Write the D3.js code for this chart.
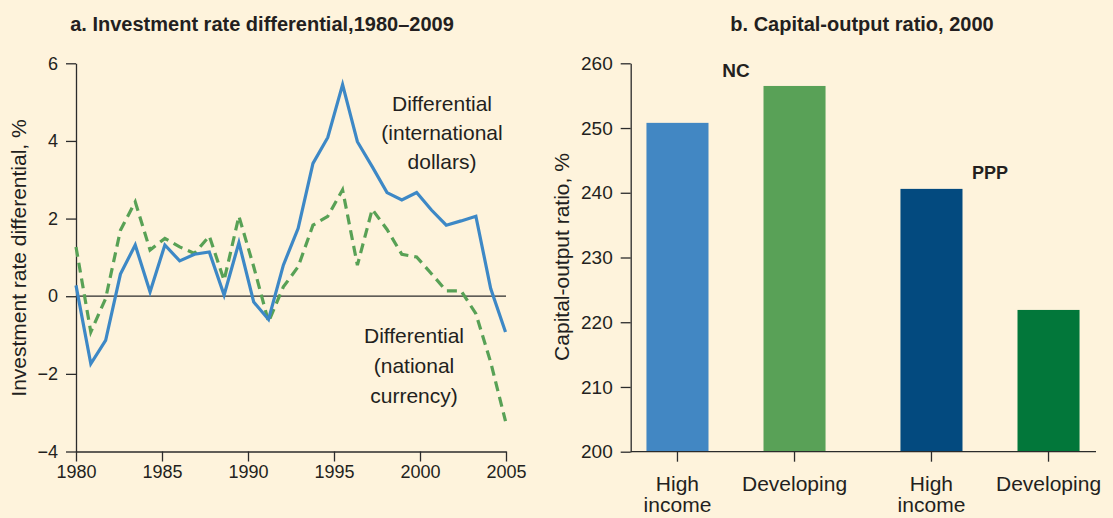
<!DOCTYPE html>
<html>
<head>
<meta charset="utf-8">
<script src="https://cdn.jsdelivr.net/npm/d3@7"></script>
<style>
  html, body { margin: 0; padding: 0; background: #fef3dc; }
  svg { display: block; }
  text { font-family: "Liberation Sans", Arial, Helvetica, sans-serif; fill: #231f20; }
</style>
</head>
<body>
<svg id="chart" width="1113" height="518"></svg>
<script>
// ---------- Data ----------
const years = [1980,1981,1982,1983,1984,1985,1986,1987,1988,1989,1990,1991,1992,1993,1994,
               1995,1996,1997,1998,1999,2000,2001,2002,2003,2004,2005,2006,2007,2008,2009];
const intlDollars = [0.28,-1.74,-1.14,0.57,1.32,0.11,1.32,0.91,1.08,1.14,0.03,1.38,-0.15,-0.60,0.80,
                     1.75,3.42,4.09,5.45,3.98,3.34,2.67,2.48,2.67,2.22,1.83,1.94,2.06,0.20,-0.92];
const natCurrency = [1.27,-0.92,-0.06,1.70,2.43,1.19,1.49,1.27,1.10,1.55,0.41,2.06,0.76,-0.66,0.24,
                     0.76,1.83,2.06,2.74,0.80,2.24,1.72,1.08,1.01,0.58,0.14,0.14,-0.45,-1.70,-3.22];
const leftYTicks = [-4,-2,0,2,4,6];
const leftXTicks = [1980,1985,1990,1995,2000,2005];

const barGroups = ["NC","PPP"];
const barCats = ["High income","Developing"];
const ncValues = [250.8, 256.5];
const pppValues = [240.6, 221.9];
const rightYTicks = [200,210,220,230,240,250,260];

// ---------- Setup ----------
const svg = d3.select("#chart");
svg.append("rect").attr("width",1113).attr("height",518).attr("fill","#fef3dc");
const axisColor = "#2b2b2b";

// ---------- Panel a ----------
const xA = d3.scaleLinear().domain([years[0], years[years.length-1]]).range([76, 505.5]);
const xAxisA = d3.scaleLinear().domain([1980, 2005]).range([76, 506]);
const yA = d3.scaleLinear().domain([-4, 6]).range([451.5, 63.3]);

const gYA = svg.append("g").attr("transform","translate(76,0)")
  .call(d3.axisLeft(yA).tickValues(leftYTicks).tickSize(10).tickSizeOuter(0).tickPadding(8));
const gXA = svg.append("g").attr("transform",`translate(0,${yA(-4)})`)
  .call(d3.axisBottom(xAxisA).tickValues(leftXTicks).tickFormat(d3.format("d")).tickSize(10).tickSizeOuter(0).tickPadding(4));
[gYA, gXA].forEach(g => {
  g.selectAll("path, line").attr("stroke", axisColor).attr("stroke-width", 1.3);
  g.selectAll("text").style("font-size","18px").attr("fill","#231f20").style("font-family","'Liberation Sans', Arial, sans-serif");
});

// zero line
svg.append("line").attr("x1", 76).attr("x2", 506).attr("y1", yA(0)).attr("y2", yA(0))
  .attr("stroke", axisColor).attr("stroke-width", 1.2);

const lineA = (vals) => d3.line().x((d,i)=>xA(years[i])).y(d=>yA(d))(vals);
svg.append("path").attr("d", lineA(natCurrency)).attr("fill","none")
  .attr("stroke","#58a155").attr("stroke-width",3.2).attr("stroke-dasharray","10,6");
svg.append("path").attr("d", lineA(intlDollars)).attr("fill","none")
  .attr("stroke","#3d88c6").attr("stroke-width",3.2).attr("stroke-linejoin","miter");

// title a
svg.append("text").attr("x", 262).attr("y", 31).attr("text-anchor","middle")
  .style("font-size","20px").style("font-weight","bold").text("a. Investment rate differential,1980–2009");

// y title a
svg.append("text").attr("transform","translate(26,258) rotate(-90)").attr("text-anchor","middle")
  .style("font-size","21px").text("Investment rate differential, %");

// annotations
const ann1 = ["Differential","(international","dollars)"];
svg.append("g").selectAll("text").data(ann1).join("text")
  .attr("x", 442).attr("y",(d,i)=>110.5 + i*29).attr("text-anchor","middle")
  .style("font-size","21px").text(d=>d);
const ann2 = ["Differential","(national","currency)"];
svg.append("g").selectAll("text").data(ann2).join("text")
  .attr("x", 414).attr("y",(d,i)=>342.5 + i*30).attr("text-anchor","middle")
  .style("font-size","21px").text(d=>d);

// ---------- Panel b ----------
const yB = d3.scaleLinear().domain([200, 260]).range([451.7, 63.3]);
const xOuter = d3.scaleBand().domain(barGroups).range([609, 1117]);
const xInner = d3.scaleBand().domain(barCats).range([0, xOuter.bandwidth()]).paddingInner(0.47).paddingOuter(0.32);

const gYB = svg.append("g").attr("transform","translate(630.7,0)")
  .call(d3.axisLeft(yB).tickValues(rightYTicks).tickSize(10).tickSizeOuter(0).tickPadding(8));
gYB.selectAll("path, line").attr("stroke", axisColor).attr("stroke-width", 1.3);
gYB.selectAll("text").style("font-size","19px").attr("fill","#231f20").style("font-family","'Liberation Sans', Arial, sans-serif");

const barData = [
  {group:"NC", cat:"High income", value:ncValues[0], color:"#4287c3"},
  {group:"NC", cat:"Developing", value:ncValues[1], color:"#59a157"},
  {group:"PPP", cat:"High income", value:pppValues[0], color:"#034a7f"},
  {group:"PPP", cat:"Developing", value:pppValues[1], color:"#02773a"}
];
const bx = d => xOuter(d.group) + xInner(d.cat);
svg.append("g").selectAll("rect").data(barData).join("rect")
  .attr("x", bx).attr("width", xInner.bandwidth())
  .attr("y", d=>yB(d.value)).attr("height", d=>yB(200)-yB(d.value))
  .attr("fill", d=>d.color);

// x axis line b
svg.append("line").attr("x1",630.7).attr("x2",1096).attr("y1",yB(200)).attr("y2",yB(200))
  .attr("stroke", axisColor).attr("stroke-width",1.3);
// ticks
svg.append("g").selectAll("line").data(barData).join("line")
  .attr("x1", d=>bx(d)+xInner.bandwidth()/2).attr("x2", d=>bx(d)+xInner.bandwidth()/2)
  .attr("y1", yB(200)).attr("y2", yB(200)+10).attr("stroke", axisColor).attr("stroke-width",1.3);
// labels
const lbl = svg.append("g").selectAll("text").data(barData).join("text")
  .attr("x", d=>bx(d)+xInner.bandwidth()/2).attr("y", 491).attr("text-anchor","middle")
  .style("font-size","21px");
lbl.each(function(d){
  const parts = d.cat.split(" ");
  if (d.cat === "High income") {
    d3.select(this).append("tspan").attr("x", bx(d)+xInner.bandwidth()/2).attr("dy",0).text(parts[0]);
    d3.select(this).append("tspan").attr("x", bx(d)+xInner.bandwidth()/2).attr("dy",21).text(parts[1]);
  } else {
    d3.select(this).text(d.cat);
  }
});

// group labels
svg.append("text").attr("x", xOuter("NC")+xOuter.bandwidth()/2).attr("y", 76.7).attr("text-anchor","middle")
  .style("font-size","19px").style("font-weight","bold").text("NC");
svg.append("text").attr("x", xOuter("PPP")+xOuter.bandwidth()/2).attr("y", 179).attr("text-anchor","middle")
  .style("font-size","18px").style("font-weight","bold").text("PPP");

// title b
svg.append("text").attr("x", 862).attr("y", 31).attr("text-anchor","middle")
  .style("font-size","20px").style("font-weight","bold").text("b. Capital-output ratio, 2000");

// y title b
svg.append("text").attr("transform","translate(569,257) rotate(-90)").attr("text-anchor","middle")
  .style("font-size","21px").text("Capital-output ratio, %");
</script>
</body>
</html>
